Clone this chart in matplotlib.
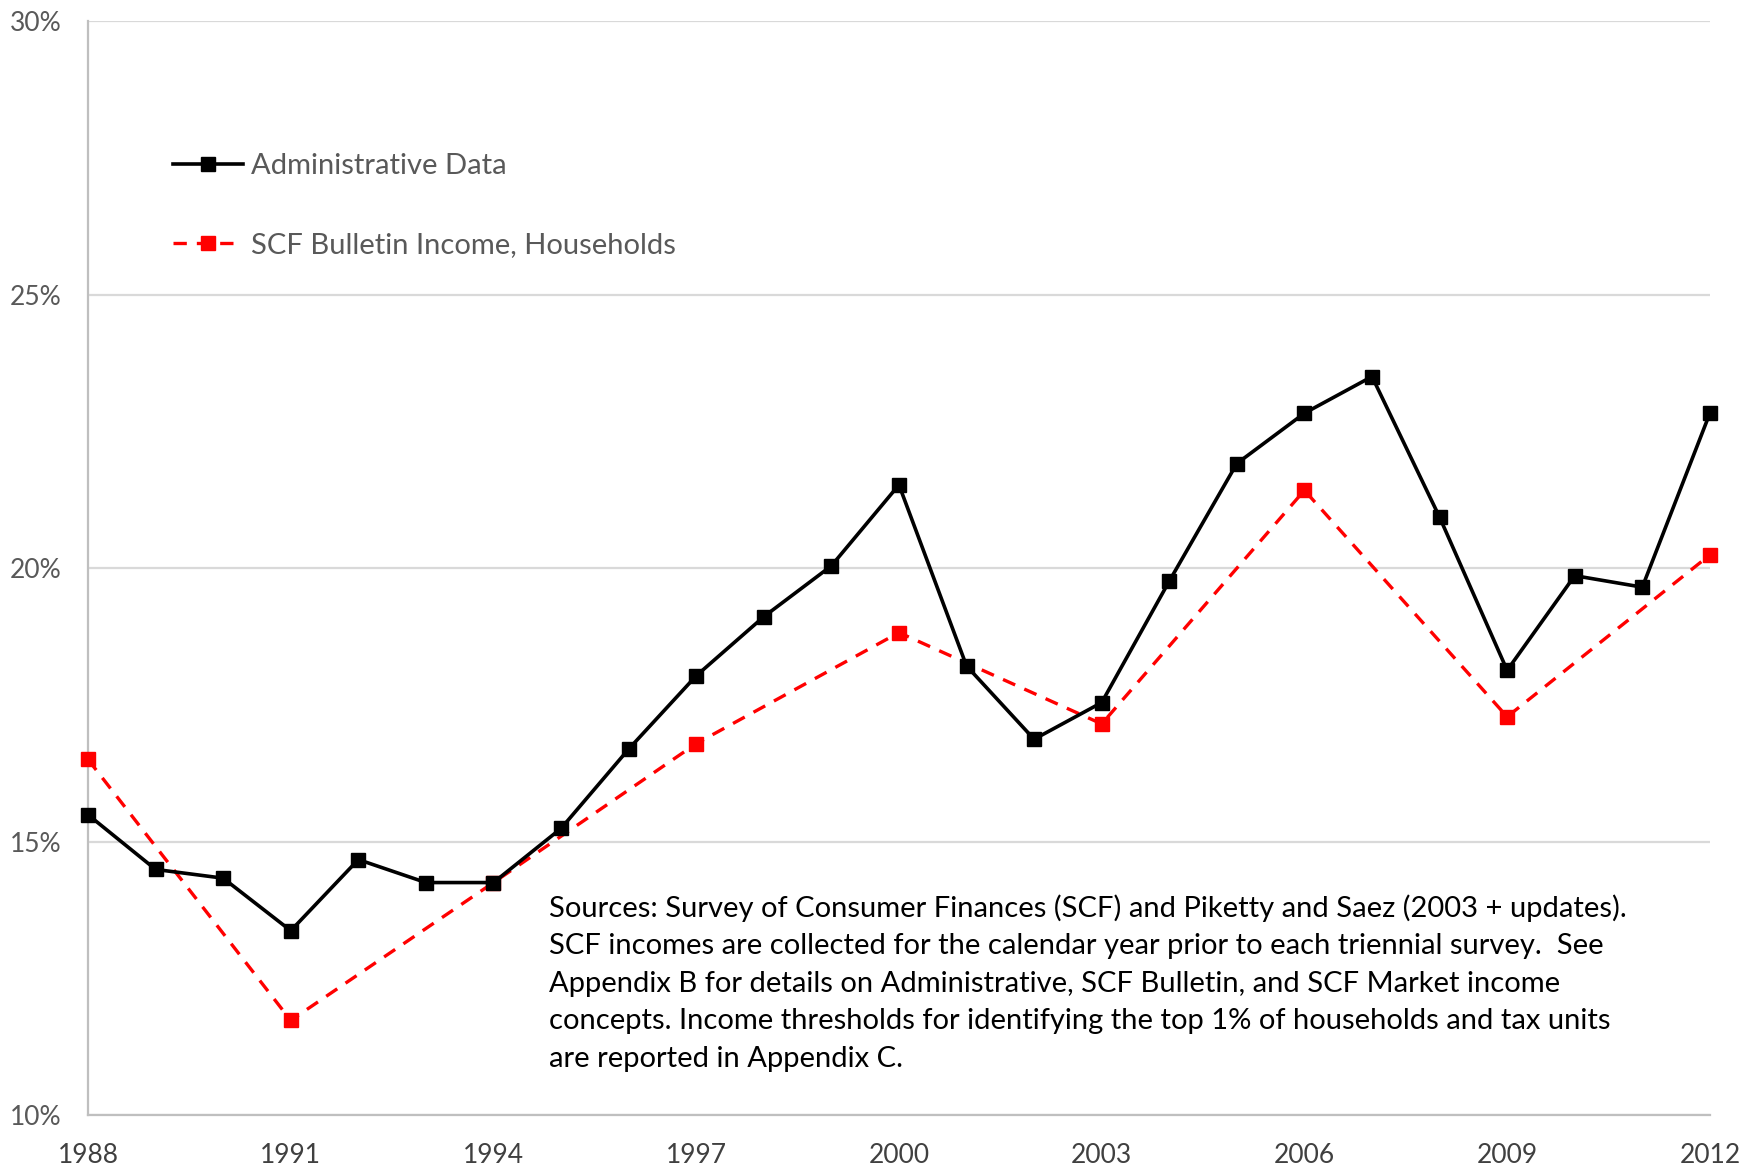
import matplotlib
matplotlib.use("Agg")
import matplotlib.pyplot as plt
from matplotlib.ticker import FuncFormatter

plt.rcParams['font.family'] = ['Lato', 'DejaVu Sans']

# Top 1% income share, percent
admin_years = list(range(1988, 2013))
admin_share = [15.49, 14.49, 14.33, 13.37, 14.67, 14.25, 14.25, 15.24, 16.69, 18.03,
               19.11, 20.04, 21.52, 18.21, 16.87, 17.54, 19.76, 21.91, 22.83, 23.50,
               20.93, 18.13, 19.86, 19.65, 22.83]

scf_years = [1988, 1991, 1994, 1997, 2000, 2003, 2006, 2009, 2012]
scf_share = [16.50, 11.73, 14.25, 16.79, 18.82, 17.15, 21.42, 17.28, 20.24]

x_ticks = [1988, 1991, 1994, 1997, 2000, 2003, 2006, 2009, 2012]
y_ticks = [10, 15, 20, 25, 30]

note = ("Sources: Survey of Consumer Finances (SCF) and Piketty and Saez (2003 + updates).\n"
        "SCF incomes are collected for the calendar year prior to each triennial survey.  See\n"
        "Appendix B for details on Administrative, SCF Bulletin, and SCF Market income\n"
        "concepts. Income thresholds for identifying the top 1% of households and tax units\n"
        "are reported in Appendix C.")

fig = plt.figure(figsize=(17.43, 11.66), dpi=100)
ax = fig.add_axes([0.0505, 0.0437, 0.9305, 0.9383])

ax.plot(admin_years, admin_share, color='black', lw=2.6, marker='s', ms=10,
        label='Administrative Data', zorder=4, clip_on=False)
ax.plot(scf_years, scf_share, color='#ff0000', lw=2.4, ls=(0, (4, 3)), marker='s', ms=10,
        label='SCF Bulletin Income, Households', zorder=3, clip_on=False)

ax.set_xlim(1988, 2012)
ax.set_ylim(10, 30)
ax.set_xticks(x_ticks)
ax.set_yticks(y_ticks)
ax.yaxis.set_major_formatter(FuncFormatter(lambda v, _: f"{v:.0f}%"))
ax.grid(axis='y', color='#d9d9d9', lw=1.6)
ax.set_axisbelow(True)

for side in ['top', 'right']:
    ax.spines[side].set_visible(False)
for side in ['left', 'bottom']:
    ax.spines[side].set_color('#bfbfbf')
    ax.spines[side].set_linewidth(1.6)

ax.tick_params(axis='both', length=0)
ax.tick_params(axis='y', labelsize=19, labelcolor='#595959', pad=19)
ax.tick_params(axis='x', labelsize=19, labelcolor='#404040', pad=20)

leg = ax.legend(loc='upper left', bbox_to_anchor=(0.036, 0.903), frameon=False,
                fontsize=21, handlelength=2.4, labelspacing=1.8, handletextpad=0.3)
for t in leg.get_texts():
    t.set_color('#595959')

ax.text(0.284, 0.202, note, transform=ax.transAxes, ha='left', va='top',
        fontsize=21, color='black', linespacing=1.55)

fig.savefig('out.png', dpi=100)
